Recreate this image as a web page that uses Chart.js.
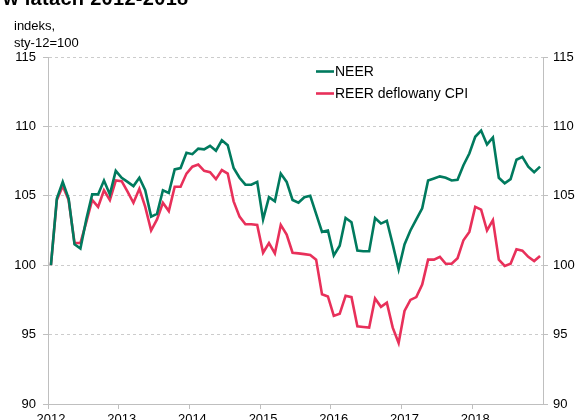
<!DOCTYPE html>
<html>
<head>
<meta charset="utf-8">
<script src="https://cdn.jsdelivr.net/npm/chart.js@4"></script>
<style>
  html, body { margin: 0; padding: 0; background: #fff; overflow: hidden; }
  #wrap { position: relative; width: 580px; height: 440px; }
  #title { position: absolute; left: 3px; top: -12px; font: bold 20px "Liberation Sans", Arial, sans-serif; line-height: 20px; color: #000; white-space: nowrap; letter-spacing: 0.3px; }
  #unit { position: absolute; left: 14px; top: 17px; font: 13px "Liberation Sans", Arial, sans-serif; line-height: 17px; color: #000; }
</style>
</head>
<body>
<div id="wrap">
  <div id="title">w latach 2012-2018</div>
  <div id="unit">indeks,<br>sty-12=100</div>
  <canvas id="lineChart"></canvas>
</div>
<script>
const years = ['2012', '2013', '2014', '2015', '2016', '2017', '2018'];
const monthNames = ['sty', 'lut', 'mar', 'kwi', 'maj', 'cze', 'lip', 'sie', 'wrz', 'paź', 'lis', 'gru'];
const yTicks = [90, 95, 100, 105, 110, 115];

const neer = [
  100, 104.8, 106.0, 104.8, 101.5, 101.2, 103.3, 105.1, 105.1, 106.1, 105.1, 106.8,
  106.3, 106.0, 105.7, 106.3, 105.4, 103.5, 103.7, 105.4, 105.2, 106.9, 107.0, 108.1,
  108.0, 108.4, 108.35, 108.6, 108.25, 109.0, 108.65, 107.0, 106.3, 105.8, 105.8, 106.0,
  103.3, 104.9, 104.6, 106.6, 106.0, 104.7, 104.5, 104.9, 105.0, 103.7, 102.4, 102.5,
  100.7, 101.4, 103.4, 103.1, 101.05, 101.0, 101.0, 103.4, 103.0, 103.2, 101.5, 99.7,
  101.5, 102.5, 103.3, 104.1, 106.1, 106.25, 106.4, 106.3, 106.1, 106.15, 107.2, 108.05,
  109.25, 109.7, 108.7, 109.2, 106.3, 105.9, 106.2, 107.6, 107.8, 107.1, 106.7, 107.1
];
const reer = [
  100, 104.7, 105.7, 104.7, 101.6, 101.6, 103.1, 104.7, 104.2, 105.4, 104.7, 106.1,
  106.05, 105.3, 104.5, 105.5, 104.2, 102.5, 103.3, 104.5, 103.9, 105.65, 105.65, 106.6,
  107.1, 107.25, 106.8, 106.7, 106.2, 106.85, 106.6, 104.6, 103.5, 102.95, 102.95, 102.9,
  100.9, 101.6, 100.85, 102.9, 102.2, 100.9, 100.85, 100.8, 100.74, 100.4, 97.9, 97.75,
  96.35, 96.5, 97.8, 97.7, 95.6, 95.55, 95.5, 97.6, 97.0, 97.3, 95.5, 94.4,
  96.7, 97.5, 97.7, 98.6, 100.4, 100.4, 100.6, 100.1, 100.1, 100.5, 101.8, 102.4,
  104.2, 104.0, 102.5, 103.25, 100.4, 99.95, 100.1, 101.15, 101.05, 100.6, 100.3, 100.67
];

const labels = [];
years.forEach(y => monthNames.forEach(m => labels.push(m + '-' + y.slice(2))));

const axisGray = '#bfbfbf';
const tickFont = { family: '"Liberation Sans", Arial, sans-serif', size: 13 };

// legend drawn inside the plot, like the original
const innerLegend = {
  id: 'innerLegend',
  afterDraw(chart) {
    const c = chart.ctx;
    const a = chart.chartArea;
    c.save();
    c.font = '14px "Liberation Sans", Arial, sans-serif';
    c.textBaseline = 'middle';
    chart.data.datasets.forEach((ds, i) => {
      const x = a.left + 268;
      const y = a.top + 14.5 + i * 22;
      c.strokeStyle = ds.borderColor;
      c.lineWidth = 2.6;
      c.beginPath();
      c.moveTo(x, y);
      c.lineTo(x + 18, y);
      c.stroke();
      c.fillStyle = '#000';
      c.fillText(ds.label, x + 19, y + 0.5);
    });
    c.restore();
  }
};

const ctx = document.getElementById('lineChart').getContext('2d');
const myChart = new Chart(ctx, {
  type: 'line',
  data: {
    labels: labels,
    datasets: [
      { label: 'NEER', data: neer, borderColor: 'rgb(0, 122, 94)', backgroundColor: 'rgb(0, 122, 94)', borderWidth: 2.6, pointRadius: 0, tension: 0 },
      { label: 'REER deflowany CPI', data: reer, borderColor: 'rgb(232, 48, 90)', backgroundColor: 'rgb(232, 48, 90)', borderWidth: 2.6, pointRadius: 0, tension: 0 }
    ]
  },
  options: {
    responsive: true,
    maintainAspectRatio: false,
    animation: false,
    layout: { padding: { top: 57, left: 0, right: 0, bottom: 0 } },
    plugins: { legend: { display: false }, tooltip: { enabled: false } },
    scales: {
      x: {
        type: 'category',
        offset: true,
        grid: {
          offset: true,
          drawOnChartArea: false,
          tickLength: 5,
          tickColor: c => (c.index % 12 === 0 ? axisGray : 'rgba(0,0,0,0)')
        },
        border: { color: axisGray, width: 1 },
        ticks: {
          autoSkip: false,
          maxRotation: 0,
          padding: 3,
          color: '#000',
          font: tickFont,
          callback: (v, i) => (i % 12 === 0 ? years[i / 12] : '')
        },
        afterFit: s => { s.height = 36; }
      },
      y: {
        position: 'left',
        min: yTicks[0],
        max: yTicks[yTicks.length - 1],
        afterBuildTicks: s => { s.ticks = yTicks.map(v => ({ value: v })); },
        grid: { color: '#cccccc', lineWidth: 1, tickLength: 5, tickColor: axisGray },
        border: { color: axisGray, width: 1, dash: [3, 3] },
        ticks: { padding: 7, color: '#000', font: tickFont },
        afterFit: s => { s.width = 48; }
      },
      y2: {
        position: 'right',
        min: yTicks[0],
        max: yTicks[yTicks.length - 1],
        afterBuildTicks: s => { s.ticks = yTicks.map(v => ({ value: v })); },
        grid: { drawOnChartArea: false, tickLength: 5, tickColor: axisGray },
        border: { color: axisGray, width: 1 },
        ticks: { padding: 5, color: '#000', font: tickFont },
        afterFit: s => { s.width = 37; }
      }
    }
  },
  plugins: [innerLegend]
});
</script>
</body>
</html>
